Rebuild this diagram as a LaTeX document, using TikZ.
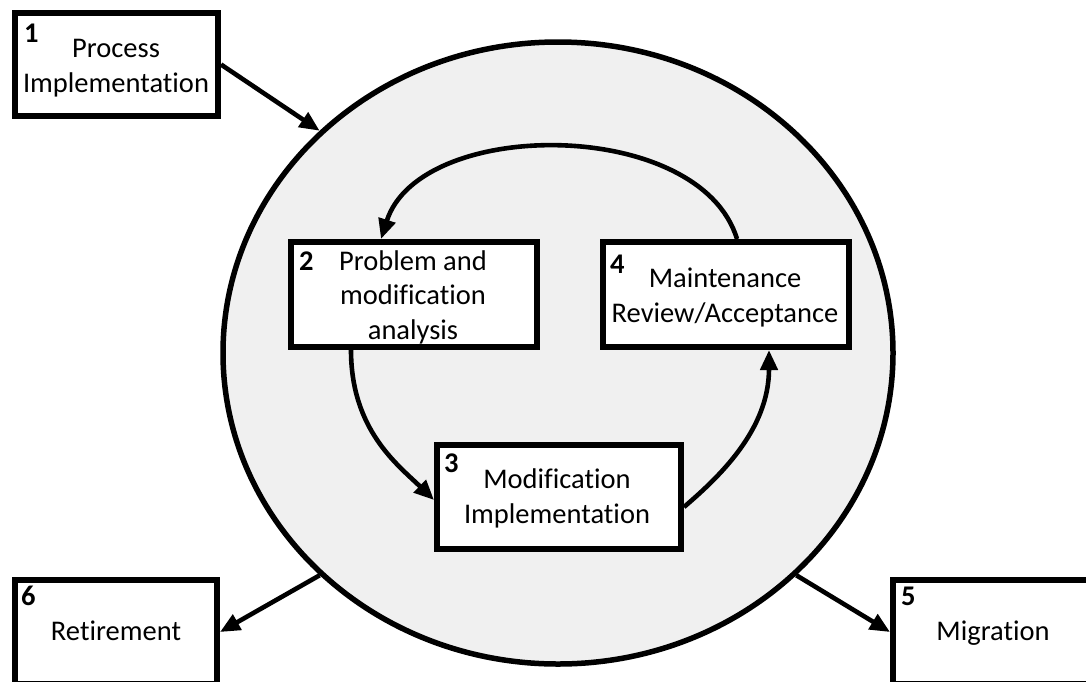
\documentclass[tikz,border=0pt]{standalone}
\usepackage{fontspec}
\setmainfont{Carlito}[Ligatures={NoCommon,NoContextual}]
\usetikzlibrary{shapes.geometric,arrows.meta}
\definecolor{ringfill}{HTML}{F0F0F0}
\begin{document}
\begin{tikzpicture}[x=1pt,y=-1pt,
  box/.style={draw=black, line width=6pt, fill=white, inner sep=0pt},
  lbl/.style={anchor=base, inner sep=0pt, font=\fontsize{28.5}{34}\selectfont},
  num/.style={anchor=base west, inner sep=0pt, font=\fontsize{28.5}{34}\selectfont\bfseries},
  flow/.style={line width=4.6pt, -{Triangle[length=20pt,width=17pt]}}]

\clip (0,0) rectangle (1086,681);

% maintenance ring
\node[ellipse, draw=black, line width=5.5pt, fill=ringfill, inner sep=0pt,
      minimum width=670pt, minimum height=622pt] (ring) at (558,353) {};

% stage boxes
\node[box, minimum width=203pt, minimum height=103pt] (b1) at (116.5,64.5) {};
\node[box, minimum width=246pt, minimum height=105pt] (b2) at (414,294.5) {};
\node[box, minimum width=246pt, minimum height=105pt] (b4) at (726,294.5) {};
\node[box, minimum width=244pt, minimum height=104pt] (b3) at (559,497) {};
\node[box, minimum width=202pt, minimum height=104pt] (b6) at (116,632) {};
\node[box, minimum width=202pt, minimum height=104pt] (b5) at (994,632) {};

% numbers and labels
\node[num] (n1) at (24,42) {1};
\node[lbl] (t1a) at (116,57) {Process};
\node[lbl] (t1b) at (116,92) {Implementation};

\node[num] (n2) at (299,270) {2};
\node[lbl] (t2a) at (413,270) {Problem and};
\node[lbl] (t2b) at (413,304.5) {modification};
\node[lbl] (t2c) at (413,339) {analysis};

\node[num] (n4) at (610,273) {4};
\node[lbl] (t4a) at (725,287) {Maintenance};
\node[lbl] (t4b) at (725,322) {Review/Acceptance};

\node[num] (n3) at (444,472) {3};
\node[lbl] (t3a) at (557,488) {Modification};
\node[lbl] (t3b) at (557,523) {Implementation};

\node[num] (n6) at (21,605) {6};
\node[lbl] (t6) at (116,640) {Retirement};

\node[num] (n5) at (901,605) {5};
\node[lbl] (t5) at (993,640) {Migration};

% connectors
\draw[flow] (b1.east) -- (ring.137);
\draw[flow] (ring.223) -- (b6.east);
\draw[flow] (ring.317) -- (b5.west);
\draw[flow] ([xshift=11pt]b4.north) .. controls +(-37,-122) and +(39,-122) .. ([xshift=-33pt]b2.north);
\draw[flow] ([xshift=-63pt]b2.south) .. controls +(0,80) and +(-36,-35) .. ([yshift=-3pt]b3.west);
\draw[flow] ([yshift=-10pt]b3.east) .. controls +(35,-30) and +(0,80) .. ([xshift=43pt]b4.south);
\end{tikzpicture}
\end{document}
